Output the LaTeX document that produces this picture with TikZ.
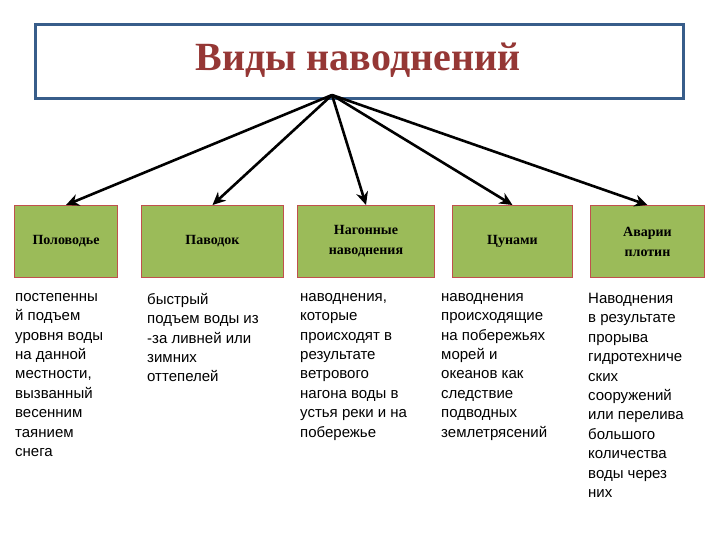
\documentclass[tikz,border=0pt]{standalone}
\usepackage{fontspec}
\setmainfont{Liberation Serif}
\newfontfamily\bodyfont{Liberation Sans}
\usetikzlibrary{arrows.meta}
\definecolor{boxgreen}{HTML}{9BBB59}
\definecolor{boxedge}{HTML}{C0504D}
\definecolor{titlered}{HTML}{953735}
\definecolor{frameblue}{HTML}{385D8A}
\tikzset{x=1pt,y=-1pt,
 cat/.style={draw=boxedge,line width=1pt,fill=boxgreen,anchor=north west,inner sep=0pt,align=center,font=\bfseries\fontsize{14}{20}\selectfont},
 body/.style={anchor=north west,inner sep=0pt,align=left,font=\bodyfont\fontsize{15}{19.4}\selectfont},
 arr/.style={line width=2.6pt,-{Stealth[length=13pt,width=12pt]}}}
\begin{document}
\begin{tikzpicture}
\useasboundingbox[fill=white] (0,0) rectangle (720,540);
\node[draw=frameblue,line width=3pt,anchor=north west,minimum width=648,minimum height=74,inner sep=0pt] (title) at (34,23) {};
\node[text=titlered,font=\bfseries\fontsize{40}{42}\selectfont] (tt) at (358,60) {Виды наводнений};
\coordinate (src) at (332,95);
\node[cat,minimum width=103,minimum height=72] (b1) at (14,205) {Половодье};
\node[cat,minimum width=142,minimum height=72] (b2) at (141,205) {Паводок};
\node[cat,minimum width=137,minimum height=72] (b3) at (297,205) {Нагонные\\наводнения};
\node[cat,minimum width=120,minimum height=72] (b4) at (452,205) {Цунами};
\node[cat,minimum width=114,minimum height=72] (b5) at (590,205) {Аварии\\плотин};
\draw[arr] (src) -- (b1.north);
\draw[arr] (src) -- (b2.north);
\draw[arr] (src) -- (b3.north);
\draw[arr] (src) -- (b4.north);
\draw[arr] (src) -- (b5.north);
\node[body] (t1) at (15,293) {постепенны\\й подъем\\уровня воды\\на данной\\местности,\\вызванный\\весенним\\таянием\\снега};
\node[body] (t2) at (147,293) {быстрый\\подъем воды из\\-за ливней или\\зимних\\оттепелей};
\node[body] (t3) at (300,293) {наводнения,\\которые\\происходят в\\результате\\ветрового\\нагона воды в\\устья реки и на\\побережье};
\node[body] (t4) at (441,293) {наводнения\\происходящие\\на побережьях\\морей и\\океанов как\\следствие\\подводных\\землетрясений};
\node[body] (t5) at (588,293) {Наводнения\\в результате\\прорыва\\гидротехниче\\ских\\сооружений\\или перелива\\большого\\количества\\воды через\\них};
\end{tikzpicture}
\end{document}
